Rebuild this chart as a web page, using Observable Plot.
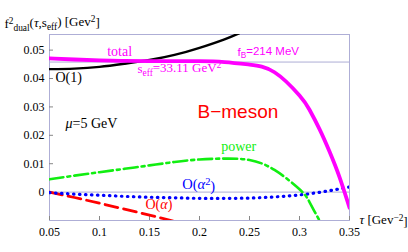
<!DOCTYPE html>
<html><head><meta charset="utf-8">
<script src="https://cdn.jsdelivr.net/npm/d3@7"></script>
<script src="https://cdn.jsdelivr.net/npm/@observablehq/plot@0.6"></script>
<style>body{margin:0;background:#fff}</style>
</head><body><div id="chart"></div>
<script>
// τ grid [GeV^-2]
const tau = [0.05, 0.075, 0.1, 0.125, 0.15, 0.175, 0.2, 0.225, 0.25, 0.275, 0.3, 0.31, 0.32, 0.33, 0.34, 0.35];
// total f²_dual (magenta)
const total = [0.0471, 0.0467, 0.0464, 0.0462, 0.0461, 0.0461, 0.0461, 0.0458, 0.0449, 0.0422, 0.0340, 0.0290, 0.0222, 0.0143, 0.0053, -0.0055];
// O(1) contribution
const tauO1 = [0.05, 0.075, 0.1, 0.125, 0.15, 0.175, 0.2, 0.225, 0.24];
const o1 = [0.0433, 0.0435, 0.0441, 0.0452, 0.0465, 0.0483, 0.0508, 0.0538, 0.0560];
// power corrections
const tauPow = [0.05, 0.075, 0.1, 0.125, 0.15, 0.175, 0.2, 0.225, 0.25, 0.275, 0.3, 0.31, 0.32, 0.325];
const power = [0.0045, 0.0058, 0.0070, 0.0082, 0.0094, 0.0106, 0.0115, 0.0118, 0.0113, 0.0078, 0.0010, -0.0035, -0.0100, -0.0125];
// O(α²)
const tauA2 = [0.05, 0.075, 0.1, 0.125, 0.15, 0.175, 0.2, 0.225, 0.25, 0.275, 0.3, 0.325, 0.35];
const alpha2 = [-0.0002, -0.0007, -0.0011, -0.0015, -0.0018, -0.0020, -0.0022, -0.0022, -0.0021, -0.0017, -0.0010, 0.0002, 0.0018];
// O(α)
const tauA1 = [0.05, 0.075, 0.1, 0.125, 0.15, 0.175, 0.2];
const alpha1 = [0, -0.0019, -0.0039, -0.0060, -0.0081, -0.0103, -0.0125];
// f_B
const fB = 0.214;
// tick values
const xTicks = [0.05, 0.1, 0.15, 0.2, 0.25, 0.3, 0.35];
const yTicks = [0, 0.01, 0.02, 0.03, 0.04, 0.05];

const series = (xs, ys) => xs.map((x, i) => ({x, y: ys[i]}));

const serif = '"Liberation Serif", "Times New Roman", serif';
const sans = '"Liberation Sans", Arial, sans-serif';
const frameColor = "#aeaed6";

// rich labels: key -> parts [text, mode]  mode: "sub" | "sup" | "i" | undefined
const rich = {
  "TITLE": [["f"], ["2", "sup"], ["dual", "sub"], ["("], ["τ", "i"], [",s"], ["eff", "sub"], [") [Gev"], ["2", "sup"], ["]"]],
  "SEFF": [["s"], ["eff", "sub"], ["=33.11 GeV"], ["2", "sup"]],
  "FB": [["f"], ["B", "sub"], ["=214 MeV"]],
  "MU": [["μ", "i"], ["=5 GeV"]],
  "OA2": [["O("], ["α", "i"], ["2", "sup"], [")"]],
  "OA1": [["O("], ["α", "i"], [")"]],
  "TAU": [["τ", "i"], [" [Gev"], ["−2", "sup"], ["]"]]
};

const W = 408, H = 252, mL = 49, mR = 59, mT = 34, mB = 32;

const label = (text, x, y, opts) => Plot.text([{x, y, text}], {x: "x", y: "y", text: "text", textAnchor: "start", fontFamily: serif, ...opts});

const plot = Plot.plot({
  width: W,
  height: H,
  marginLeft: mL,
  marginRight: mR,
  marginTop: mT,
  marginBottom: mB,
  style: {fontFamily: serif, fontSize: "12px", background: "#fff", overflow: "visible"},
  x: {type: "linear", domain: [0.05, 0.35]},
  y: {type: "linear", domain: [-0.01, 0.0555]},
  marks: [
    Plot.ruleY([0, fB * fB], {stroke: frameColor, strokeWidth: 1}),
    Plot.frame({stroke: frameColor, strokeWidth: 1}),
    Plot.axisX({ticks: xTicks, tickSize: 0, tickPadding: 7, tickFormat: d => String(d), fill: "#000", fontSize: 12, fontFamily: serif, label: null}),
    Plot.axisY({ticks: yTicks, tickSize: 0, tickPadding: 5, tickFormat: d => String(d), fill: "#000", fontSize: 12, fontFamily: serif, label: null}),
    Plot.tickX(xTicks, {x: d => d, insetTop: H - mT - mB - 4, stroke: "#888", strokeWidth: 1}),
    Plot.tickY(yTicks, {y: d => d, insetRight: W - mL - mR - 4, stroke: "#888", strokeWidth: 1}),
    Plot.line(series(tauA1, alpha1), {x: "x", y: "y", stroke: "#ff0000", strokeWidth: 2.8, strokeDasharray: "13,6", clip: true}),
    Plot.line(series(tauA2, alpha2), {x: "x", y: "y", stroke: "#0000ff", strokeWidth: 3.2, strokeDasharray: "0.5,5.5", strokeLinecap: "round", clip: true, curve: "natural"}),
    Plot.line(series(tauPow, power), {x: "x", y: "y", stroke: "#11ee11", strokeWidth: 2.6, strokeDasharray: "14,4,3,4", clip: true, curve: "natural"}),
    Plot.line(series(tauO1, o1), {x: "x", y: "y", stroke: "#000", strokeWidth: 2.4, clip: true, curve: "natural"}),
    Plot.line(series(tau, total), {x: "x", y: "y", stroke: "#ff00ff", strokeWidth: 3.8, clip: true, curve: "natural"}),
    label("TITLE", 0.005, 0.0593, {fontSize: 13, fill: "#000"}),
    label("total", 0.1077, 0.0494, {fontSize: 14, fill: "#ff00ff"}),
    label("O(1)", 0.056, 0.0405, {fontSize: 14, fill: "#000"}),
    label("SEFF", 0.138, 0.0434, {fontSize: 13, fill: "#ff00ff"}),
    label("FB", 0.238, 0.0493, {fontSize: 11.5, fill: "#ff00ff", fontFamily: sans}),
    label("B−meson", 0.198, 0.0283, {fontSize: 19, fill: "#ff0000", fontFamily: sans}),
    label("MU", 0.066, 0.0243, {fontSize: 14, fill: "#000"}),
    label("power", 0.2217, 0.0159, {fontSize: 14, fill: "#11ee11"}),
    label("OA2", 0.1827, 0.00275, {fontSize: 14.5, fill: "#0000ff"}),
    label("OA1", 0.146, -0.0043, {fontSize: 14, fill: "#ff0000"}),
    label("TAU", 0.36, -0.0099, {fontSize: 13, fill: "#000"})
  ]
});

// rebuild rich labels with sub/superscripts
d3.select(plot).selectAll("text").each(function() {
  const key = this.textContent;
  if (!(key in rich)) return;
  const el = d3.select(this);
  el.text(null);
  let shift = 0;
  for (const [t, mode] of rich[key]) {
    const ts = el.append("tspan").text(t);
    let target = 0;
    if (mode === "sub") target = 0.3;
    if (mode === "sup") target = -0.4;
    const dy = target - shift;
    if (dy !== 0) ts.attr("dy", dy + "em");
    shift = target;
    if (mode === "sub" || mode === "sup") ts.attr("font-size", "0.72em");
    if (mode === "i") ts.attr("font-style", "italic");
  }
});
document.getElementById("chart").appendChild(plot);
</script>
</body></html>
